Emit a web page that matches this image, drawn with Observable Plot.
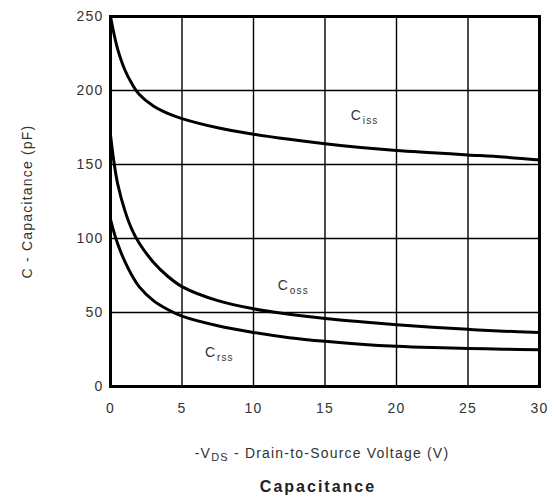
<!DOCTYPE html>
<html>
<head>
<meta charset="utf-8">
<script src="https://cdn.jsdelivr.net/npm/d3@7"></script>
<script src="https://cdn.jsdelivr.net/npm/@observablehq/plot@0.6"></script>
<style>
  html, body { margin: 0; padding: 0; background: white; }
  #wrap { position: relative; width: 556px; height: 497px; font-family: "Liberation Sans", Arial, sans-serif; color: #333; }
  #xlabel { position: absolute; left: 0; width: 644px; top: 446px; text-align: center; font-size: 14px; line-height: 14px; letter-spacing: 1.2px; white-space: nowrap; }
  #xlabel sub { font-size: 11px; vertical-align: -3px; line-height: 0; }
  #title { position: absolute; left: 0; width: 636px; top: 479px; text-align: center; font-size: 16px; line-height: 16px; font-weight: bold; letter-spacing: 2px; color: #222; }
</style>
</head>
<body>
<div id="wrap">
  <div id="chart"></div>
  <div id="xlabel">-V<sub>DS</sub> - Drain-to-Source Voltage (V)</div>
  <div id="title">Capacitance</div>
</div>
<script>
// Drain-to-source voltage sample points (V)
const voltage = [0, 0.25, 0.5, 1, 1.5, 2, 3, 4, 5, 7.5, 10, 12.5, 15, 17.5, 20, 22.5, 25, 27.5, 30];
// Capacitances (pF)
const ciss = [250, 238, 228, 214, 204.5, 197.5, 189.5, 184.5, 181, 174.8, 170.5, 167, 164, 161.5, 159.5, 158, 156.5, 155, 153];
const coss = [170, 151, 137, 119, 106, 97, 84, 74.5, 67.5, 58, 52.5, 48.8, 46, 43.8, 41.8, 40, 38.6, 37.4, 36.5];
const crss = [113, 104, 96.5, 84.5, 75, 67.5, 58, 52, 47.5, 41, 36.5, 33, 30.5, 28.6, 27.2, 26.3, 25.7, 25.2, 24.8];

const seriesNames = ["Ciss", "Coss", "Crss"];
const seriesValues = [ciss, coss, crss];

// Curve labels: main letter, subscript, anchor position (V, pF)
const labelMain = ["C", "C", "C"];
const labelSub = ["iss", "oss", "rss"];
const labelV = [16.8, 11.7, 6.6];
const labelC = [180, 65.5, 19.6];

const xTicks = [0, 5, 10, 15, 20, 25, 30];
const yTicks = [0, 50, 100, 150, 200, 250];
const xGrid = [5, 10, 15, 20, 25];
const yGrid = [50, 100, 150, 200];

const data = seriesNames.flatMap((s, i) => voltage.map((v, j) => ({series: s, v, c: seriesValues[i][j]})));
const labels = labelMain.map((m, i) => ({main: m, sub: labelSub[i], v: labelV[i], c: labelC[i]}));

const chart = Plot.plot({
  width: 556,
  height: 420,
  marginLeft: 110,
  marginRight: 17,
  marginTop: 16,
  marginBottom: 34,
  x: {domain: [0, 30]},
  y: {domain: [0, 250]},
  style: {fontFamily: "'Liberation Sans', Arial, sans-serif", fontSize: "14px", color: "#333", background: "white", letterSpacing: "1.2px"},
  marks: [
    Plot.gridX(xGrid, {stroke: "black", strokeOpacity: 1, strokeWidth: 1.4}),
    Plot.gridY(yGrid, {stroke: "black", strokeOpacity: 1, strokeWidth: 1.4}),
    Plot.axisX(xTicks, {tickSize: 0, tickPadding: 17, label: null, fontSize: 14}),
    Plot.axisY(yTicks, {tickSize: 0, tickPadding: 7, label: null, fontSize: 14}),
    Plot.line(data, {x: "v", y: "c", z: "series", curve: "catmull-rom", stroke: "black", strokeWidth: 3}),
    Plot.frame({stroke: "black", strokeWidth: 3}),
    Plot.text(labels, {x: "v", y: "c", text: "main", textAnchor: "start", lineAnchor: "bottom", fontSize: 14, fill: "#333"}),
    Plot.text(labels, {x: "v", y: "c", text: "sub", textAnchor: "start", lineAnchor: "bottom", dx: 12, dy: 4, fontSize: 10, fill: "#333"}),
    Plot.text(["C - Capacitance (pF)"], {frameAnchor: "left", rotate: -90, dx: -83, textAnchor: "middle", lineAnchor: "middle", fontSize: 14, fill: "#333"})
  ]
});
document.getElementById("chart").appendChild(chart);
</script>
</body>
</html>
